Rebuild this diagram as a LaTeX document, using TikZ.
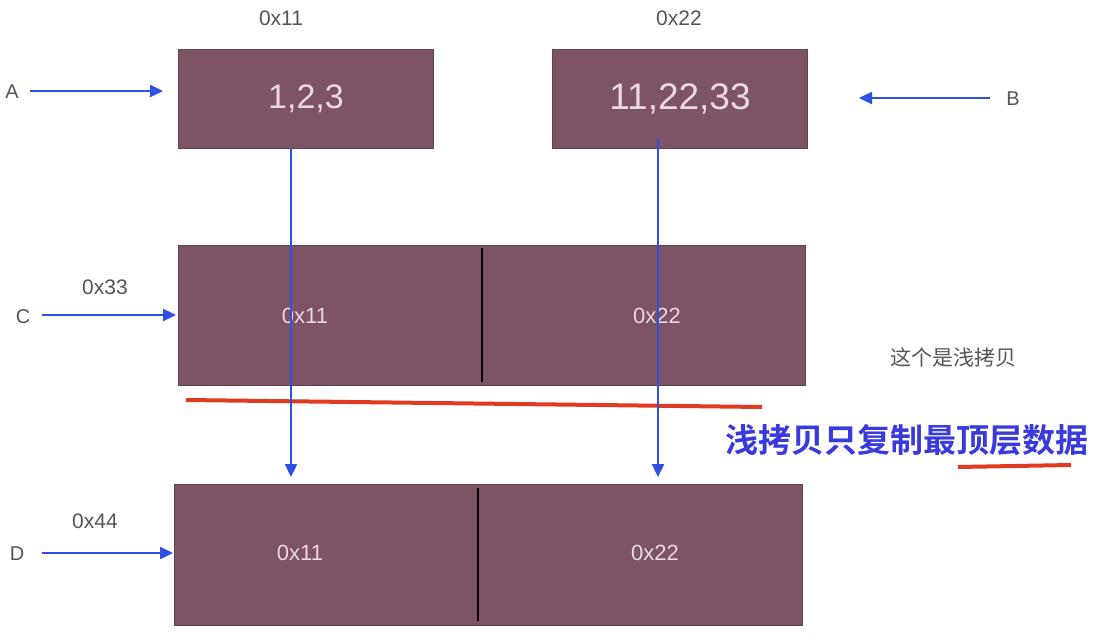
\documentclass[tikz,border=0pt]{standalone}
\usepackage{fontspec}
\setmainfont{Liberation Sans}
\newfontfamily\cjk{Noto Sans CJK SC}
\newfontfamily\cjkb{Noto Sans CJK SC Bold}
\usetikzlibrary{arrows.meta}
\definecolor{boxc}{HTML}{7C5466}
\definecolor{arr}{HTML}{3050E0}
\definecolor{lbl}{HTML}{555555}
\definecolor{redl}{HTML}{E03A22}
\definecolor{btxt}{HTML}{3A3ADC}
\definecolor{intxt}{HTML}{EAD8E2}
\tikzset{
  mem/.style={fill=boxc, draw=boxc!80!black, line width=0.6pt},
  ptr/.style={draw=arr, line width=2.4pt, -{Triangle[length=13pt,width=12pt]}},
  lab/.style={text=lbl, font=\fontsize{20}{22}\selectfont, inner sep=0pt},
  addr/.style={text=lbl, font=\fontsize{21}{23}\selectfont, inner sep=0pt},
  val/.style={text=intxt, inner sep=0pt},
}
\begin{document}
\begin{tikzpicture}[x=1pt,y=-1pt]
\useasboundingbox (0,0) rectangle (1105,642);
% boxes
\path[mem] (178,49) rectangle (433,148);
\path[mem] (552,49) rectangle (807,148);
\path[mem] (178,245) rectangle (805,385);
\path[mem] (174,484) rectangle (802,625);
\draw[black, line width=2.5pt] (482,248) -- (482,382);
\draw[black, line width=2.5pt] (478,488) -- (478,621);
% texts inside boxes
\node[val, font=\fontsize{34}{36}\selectfont] (va) at (306,99) {1,2,3};
\node[val, font=\fontsize{37}{39}\selectfont] (vb) at (680,99) {11,22,33};
\node[val, font=\fontsize{22}{24}\selectfont] (c1) at (305,316) {0x11};
\node[val, font=\fontsize{22}{24}\selectfont] (c2) at (657,316) {0x22};
\node[val, font=\fontsize{22}{24}\selectfont] (d1) at (300,553) {0x11};
\node[val, font=\fontsize{22}{24}\selectfont] (d2) at (655,553) {0x22};
% address labels
\node[addr] (a11) at (281,18) {0x11};
\node[addr] (a22) at (679,18) {0x22};
\node[addr] (a33) at (105,287) {0x33};
\node[addr] (a44) at (95,521) {0x44};
% variable labels
\node[lab] (A) at (12,92) {A};
\node[lab] (B) at (1013,99) {B};
\node[lab] (C) at (23,317) {C};
\node[lab] (D) at (17,554) {D};
% anchor coordinates
\coordinate (Aout) at (30,91);
\coordinate (Ain) at (163,91);
\coordinate (Bout) at (990,98);
\coordinate (Bin) at (859,98);
\coordinate (Cout) at (42,315);
\coordinate (Cin) at (176,315);
\coordinate (Dout) at (42,553);
\coordinate (Din) at (173,553);
\coordinate (s1) at (291,148);
\coordinate (e1) at (291,477);
\coordinate (s2) at (658,138);
\coordinate (e2) at (658,477);
% red line
\coordinate (r1) at (186,400);
\coordinate (r2) at (762,407);
\draw[redl, line width=4pt] (r1) -- (r2);
% arrows
\draw[ptr] (Aout) -- (Ain);
\draw[ptr] (Bout) -- (Bin);
\draw[ptr] (Cout) -- (Cin);
\draw[ptr] (Dout) -- (Din);
\draw[ptr] (s1) -- (e1);
\draw[ptr] (s2) -- (e2);
% texts right
\node[text=lbl, inner sep=0pt, font=\cjk\fontsize{21}{23}\selectfont] (t1) at (953,357) {这个是浅拷贝};
\node[text=btxt, inner sep=0pt, font=\cjkb\fontsize{33}{35}\selectfont] (t2) at (907,440) {浅拷贝只复制最顶层数据};
\coordinate (u1) at (958,467);
\coordinate (u2) at (1071,465);
\draw[redl, line width=4pt] (u1) -- (u2);
\end{tikzpicture}
\end{document}
